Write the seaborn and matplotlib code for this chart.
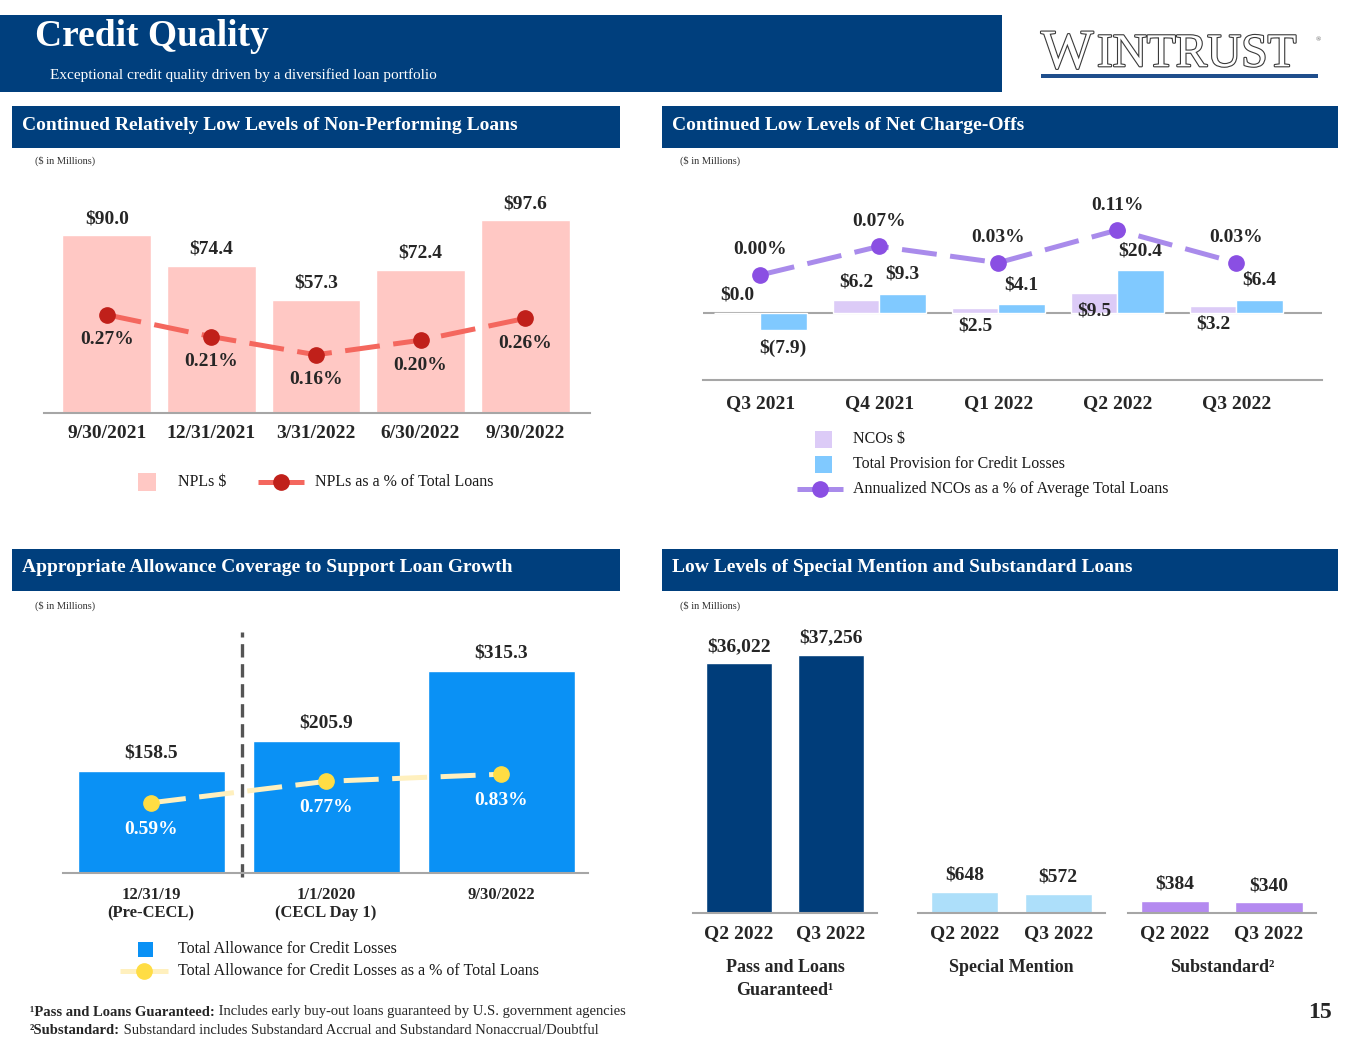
import numpy as np
import pandas as pd
import matplotlib.pyplot as plt
import matplotlib.patheffects as pe
from matplotlib.patches import Rectangle
import seaborn as sns

sns.set_theme(style='white')
plt.rcParams['font.family'] = ['Liberation Serif', 'DejaVu Serif']

# ---- data ----
npl_dates = ['9/30/2021', '12/31/2021', '3/31/2022', '6/30/2022', '9/30/2022']
npl_values = [90.0, 74.4, 57.3, 72.4, 97.6]
npl_pct = [0.27, 0.21, 0.16, 0.20, 0.26]

nco_quarters = ['Q3 2021', 'Q4 2021', 'Q1 2022', 'Q2 2022', 'Q3 2022']
nco_values = [0.0, 6.2, 2.5, 9.5, 3.2]
provision_values = [-7.9, 9.3, 4.1, 20.4, 6.4]
nco_pct = [0.00, 0.07, 0.03, 0.11, 0.03]

acl_dates = ['12/31/19\n(Pre-CECL)', '1/1/2020\n(CECL Day 1)', '9/30/2022']
acl_values = [158.5, 205.9, 315.3]
acl_pct = [0.59, 0.77, 0.83]

risk_quarters = ['Q2 2022', 'Q3 2022']
risk_groups = ['Pass and Loans\nGuaranteed\u00b9', 'Special Mention', 'Substandard\u00b2']
pass_values = [36022, 37256]
special_values = [648, 572]
substandard_values = [384, 340]

NAVY = '#003F7D'
GRAY = '#A6A6A6'

W, H = 1365, 1055
fig = plt.figure(figsize=(W / 100, H / 100), dpi=100)

# background layer in pixel coordinates
bg = fig.add_axes([0, 0, 1, 1])
bg.set_xlim(0, W)
bg.set_ylim(H, 0)
bg.axis('off')


def box(x0, y0, x1, y1):
    a = fig.add_axes([x0 / W, 1 - y1 / H, (x1 - x0) / W, (y1 - y0) / H])
    a.set_facecolor('none')
    return a


def style(a, fs=14, pad=8):
    for s in ['top', 'right', 'left']:
        a.spines[s].set_visible(False)
    a.spines['bottom'].set_color(GRAY)
    a.spines['bottom'].set_linewidth(1.5)
    a.set_yticks([])
    a.set_xlabel('')
    a.set_ylabel('')
    a.tick_params(axis='x', length=0, pad=pad, labelsize=fs)
    for t in a.get_xticklabels():
        t.set_fontweight('bold')


def twin(a, lo, hi):
    b = a.twinx()
    b.set_ylim(lo, hi)
    b.axis('off')
    return b


def leg_patch(x, y, size, color, label, tx):
    bg.add_patch(Rectangle((x, y - size / 2), size, size, color=color, lw=0))
    bg.text(tx, y, label, fontsize=11.5, va='center', ha='left', color='#1a1a1a')


def leg_line(x0, x1, y, lc, mc, label, tx):
    bg.plot([x0, x1], [y, y], color=lc, lw=3.6, solid_capstyle='butt')
    bg.plot([(x0 + x1) / 2], [y], 'o', color=mc, ms=11)
    bg.text(tx, y, label, fontsize=11.5, va='center', ha='left', color='#1a1a1a')


# ---- header ----
bg.add_patch(Rectangle((0, 15), 1002, 77, color=NAVY, lw=0))
bg.text(35, 37, 'Credit Quality', color='white', fontsize=27, fontweight='bold', va='center')
bg.text(50, 75, 'Exceptional credit quality driven by a diversified loan portfolio',
        color='white', fontsize=11, va='center')
logo_fx = [pe.Stroke(linewidth=1.6, foreground='#3a3a3a'), pe.Normal()]
bg.text(1041, 54, 'W', fontsize=40, color='white', va='center', ha='left', path_effects=logo_fx)
bg.text(1097, 55, 'INTRUST', fontsize=34, color='white', va='center', ha='left', path_effects=logo_fx)
bg.text(1316, 40, '\u00ae', fontsize=5, color='#555', va='center')
bg.add_patch(Rectangle((1041, 74), 277, 4, color='#1F4E8C', lw=0))

sections = [(12, 106, 620, 'Continued Relatively Low Levels of Non-Performing Loans'),
            (662, 106, 1338, 'Continued Low Levels of Net Charge-Offs'),
            (12, 549, 620, 'Appropriate Allowance Coverage to Support Loan Growth'),
            (662, 549, 1338, 'Low Levels of Special Mention and Substandard Loans')]
for x0, y0, x1, txt in sections:
    bg.add_patch(Rectangle((x0, y0), x1 - x0, 42, color=NAVY, lw=0))
    bg.text(x0 + 10, y0 + 19, txt, color='white', fontsize=14, fontweight='bold', va='center')

for x, y in [(35, 161), (680, 161), (35, 606), (680, 606)]:
    bg.text(x, y, '($ in Millions)', fontsize=7.5, va='center', color='#333')

# ---- NPL chart ----
ax = box(44, 190, 590, 413)
sns.barplot(x=npl_dates, y=npl_values, color='#FFC8C4', saturation=1, width=0.85, ax=ax)
ax.set_xlim(-0.6, 4.62)
ax.set_ylim(0, 113)
style(ax, fs=14, pad=9)
for i, v in enumerate(npl_values):
    ax.annotate(f'${v:.1f}', (i, v), xytext=(0, 6), textcoords='offset points',
                ha='center', va='bottom', fontsize=14, fontweight='bold')
ax2 = twin(ax, 0, 0.613)
x = np.arange(len(npl_pct))
ax2.plot(x, npl_pct, color='#F4675E', lw=3.6, ls=(0, (7, 2.7)), dash_capstyle='butt')
ax2.plot(x, npl_pct, 'o', color='#C0201A', ms=11)
for i, v in enumerate(npl_pct):
    ax2.annotate(f'{v:.2f}%', (i, v), xytext=(0, -18), textcoords='offset points',
                 ha='center', va='center', fontsize=14, fontweight='bold')
leg_patch(138, 482, 18, '#FFC8C4', 'NPLs $', 178)
leg_line(258, 304, 482, '#F4675E', '#C0201A', 'NPLs as a % of Total Loans', 315)

# ---- NCO chart ----
ax = box(703, 190, 1322, 380)
df = pd.DataFrame({'quarter': nco_quarters * 2,
                   'value': nco_values + provision_values,
                   'series': ['NCOs $'] * 5 + ['Total Provision for Credit Losses'] * 5})
sns.barplot(data=df, x='quarter', y='value', hue='series', palette=['#DCCBF7', '#80C9FF'],
            saturation=1, width=0.78, legend=False, ax=ax)
ax.set_xlim(-0.48, 4.72)
ax.set_ylim(-31.9, 58.6)
ax.axhline(0, color=GRAY, lw=1.5, zorder=0)
style(ax, fs=14, pad=11)
bw = 0.39
nco_above = [True, True, False, False, False]
for i, v in enumerate(nco_values):
    dy = 13 if nco_above[i] else -13
    ax.annotate(f'${v:.1f}', (i - bw / 2, v), xytext=(0, dy), textcoords='offset points',
                ha='center', va='center', fontsize=14, fontweight='bold')
for i, v in enumerate(provision_values):
    txt = f'${v:.1f}' if v >= 0 else f'$({-v:.1f})'
    dy = 14 if v >= 0 else -13
    ax.annotate(txt, (i + bw / 2, v), xytext=(0, dy), textcoords='offset points',
                ha='center', va='center', fontsize=14, fontweight='bold')
ax2 = twin(ax, -0.257, 0.208)
x = np.arange(len(nco_pct))
ax2.plot(x, nco_pct, color='#A98BEB', lw=3.6, ls=(0, (7, 2.7)), dash_capstyle='butt')
ax2.plot(x, nco_pct, 'o', color='#8A4FE3', ms=11)
for i, v in enumerate(nco_pct):
    ax2.annotate(f'{v:.2f}%', (i, v), xytext=(0, 18), textcoords='offset points',
                 ha='center', va='center', fontsize=14, fontweight='bold')
leg_patch(815, 439, 17, '#DCCBF7', 'NCOs $', 853)
leg_patch(815, 464, 17, '#80C9FF', 'Total Provision for Credit Losses', 853)
leg_line(797, 843, 489, '#A98BEB', '#8A4FE3', 'Annualized NCOs as a % of Average Total Loans', 853)

# ---- Allowance chart ----
ax = box(63, 620, 588, 873)
sns.barplot(x=acl_dates, y=acl_values, color='#0A91F5', saturation=1, width=0.84, ax=ax)
ax.set_xlim(-0.503, 2.497)
ax.set_ylim(0, 395)
style(ax, fs=12, pad=10)
for t in ax.get_xticklabels():
    t.set_va('top')
for i, v in enumerate(acl_values):
    ax.annotate(f'${v:.1f}', (i, v), xytext=(0, 7), textcoords='offset points',
                ha='center', va='bottom', fontsize=14, fontweight='bold')
ax.plot([0.52, 0.52], [-6, 376], color='#555555', lw=2.4, ls=(0, (4, 2)), clip_on=False)
ax2 = twin(ax, 0, 2.126)
x = np.arange(len(acl_pct))
ax2.plot(x, acl_pct, color='#FFF0BE', lw=3.6, ls=(0, (7, 2.7)), dash_capstyle='butt')
ax2.plot(x, acl_pct, 'o', color='#FFDD44', ms=11)
for i, v in enumerate(acl_pct):
    ax2.annotate(f'{v:.2f}%', (i, v), xytext=(0, -19), textcoords='offset points',
                 ha='center', va='center', fontsize=14, fontweight='bold', color='white')
leg_patch(138, 949, 15, '#0A91F5', 'Total Allowance for Credit Losses', 178)
leg_line(120, 168, 971, '#FFF0BE', '#FFDD44', 'Total Allowance for Credit Losses as a % of Total Loans', 178)

# ---- Risk rating charts ----
risk_sets = [(pass_values, '#003D7A', 693, 877, 42280),
             (special_values, '#ADDFFA', 918, 1105, 8930),
             (substandard_values, '#B48AF0', 1128, 1316, 9450)]
for (vals, col, x0, x1, top), grp in zip(risk_sets, risk_groups):
    ax = box(x0, 620, x1, 913)
    sns.barplot(x=risk_quarters, y=vals, color=col, saturation=1, width=0.72, ax=ax)
    ax.set_xlim(-0.5, 1.5)
    ax.set_ylim(0, top)
    style(ax, fs=14, pad=9)
    for i, v in enumerate(vals):
        ax.annotate(f'${v:,}', (i, v), xytext=(0, 6), textcoords='offset points',
                    ha='center', va='bottom', fontsize=14, fontweight='bold')
    bg.text((x0 + x1) / 2, 959, grp, ha='center', va='top', fontsize=13,
            fontweight='bold', linespacing=1.45)

# ---- footnotes ----
notes = [(1012, '\u00b9Pass and Loans Guaranteed:',
          ' Includes early buy-out loans guaranteed by U.S. government agencies'),
         (1030, '\u00b2Substandard:',
          ' Substandard includes Substandard Accrual and Substandard Nonaccrual/Doubtful')]
for y, b, r in notes:
    t = bg.text(30, y, b, fontsize=10.5, fontweight='bold', va='center')
    bg.annotate(r, xy=(1, 0.5), xycoords=t, va='center', ha='left', fontsize=10.5)

bg.text(1320, 1013, '15', fontsize=17, fontweight='bold', ha='center', va='center')

fig.savefig('out.png', dpi=100)
